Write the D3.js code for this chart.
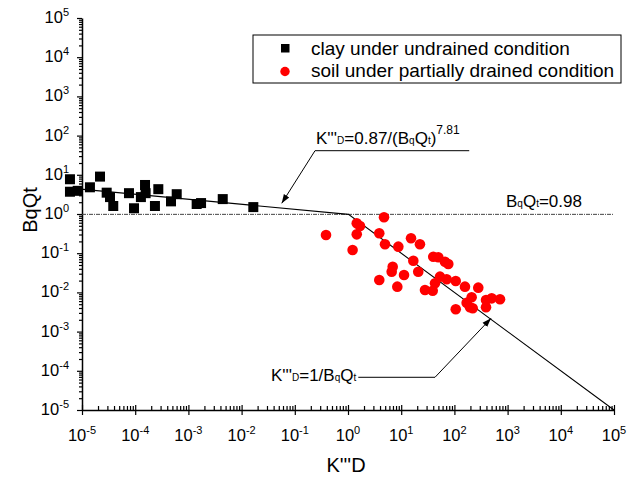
<!DOCTYPE html>
<html>
<head>
<meta charset="utf-8">
<script src="https://cdn.jsdelivr.net/npm/d3@7"></script>
<style>
  html, body { margin: 0; padding: 0; background: #fff; }
  svg { display: block; font-family: "Liberation Sans", Arial, sans-serif; }
</style>
</head>
<body>
<svg id="chart" width="627" height="477"></svg>
<script>
// ---------------- data ----------------
const clayK = [5.94e-6, 5.94e-6, 8.3e-6, 1.41e-5, 2.18e-5, 2.91e-5, 3.36e-5, 3.87e-5, 7.64e-5, 9.5e-5,
               1.28e-4, 1.53e-4, 1.57e-4, 2.35e-4, 2.72e-4, 4.71e-4, 6.03e-4, 1.43e-3, 1.73e-3, 4.42e-3, 1.66e-2];
const clayBqQt = [7.7, 3.7, 3.9, 4.8, 9.0, 3.5, 2.7, 1.6, 3.4, 1.4,
                  2.7, 5.5, 3.4, 1.6, 4.3, 2.1, 3.2, 1.8, 1.9, 2.4, 1.5];

const soilK = [0.386, 1.46, 1.68, 4.75, 1.46, 1.22, 3.87, 4.96, 8.83, 15.3,
               22.5, 16.9, 40.1, 49.8, 66.5, 76.8, 6.92, 6.62, 11.3, 20.9,
               3.87, 8.45, 53.6, 71.6, 106, 43.2, 28.0, 39.1, 158, 281,
               211, 170, 196, 106, 393, 502, 720, 393, 221];
const soilBqQt = [0.291, 0.579, 0.494, 0.824, 0.303, 0.121, 0.322, 0.169, 0.147, 0.240,
                  0.169, 0.0644, 0.0815, 0.0786, 0.0607, 0.053, 0.0453, 0.0337, 0.0278, 0.0337,
                  0.0207, 0.0140, 0.0252, 0.0216, 0.0195, 0.0171, 0.0115, 0.0110, 0.0140, 0.0132,
                  0.0075, 0.00546, 0.00417, 0.00371, 0.0064, 0.00706, 0.00667, 0.00417, 0.00393];

const tickExponents = [-5, -4, -3, -2, -1, 0, 1, 2, 3, 4, 5];
const seriesNames = ["clay under undrained condition", "soil under partially drained condition"];

// fitted relations: K'''D = 0.87/(BqQt)^7.81  and  K'''D = 1/BqQt
const fitCoef = 0.87, fitExp = 7.81;
const fitKStart = 6e-6, fitKEnd = 1e5;
const limitBqQt = 0.98;

// annotation anchors (data space)
const ann1 = { elbowK: 0.24, underlineEndK: 190, lineBqQt: 41.2, tipK: 0.0568, tipBqQt: 1.875 };
const ann2 = { startK: 1.56, elbowK: 43.2, lineBqQt: 6.83e-5, tipK: 488, tipBqQt: 2.18e-3 };

// ---------------- chart ----------------
const svg = d3.select("#chart");
const L = 82, R = 614, T = 18, B = 410;
const x = d3.scaleLog().domain([1e-5, 1e5]).range([L, R]);
const y = d3.scaleLog().domain([1e-5, 1e5]).range([B, T]);

const majors = tickExponents.map(e => Math.pow(10, e));
const minors = [];
for (let e = -5; e < 5; e++) for (let m = 2; m <= 9; m++) minors.push(m * Math.pow(10, e));

svg.append("defs").append("marker")
  .attr("id", "arrow").attr("viewBox", "0 0 10 10").attr("refX", 10).attr("refY", 5)
  .attr("markerWidth", 9).attr("markerHeight", 9).attr("markerUnits", "userSpaceOnUse")
  .attr("orient", "auto")
  .append("path").attr("d", "M0,1.5 L10,5 L0,8.5 Z").attr("fill", "#000");

// x axis
const gx = svg.append("g").attr("transform", `translate(0,${B})`);
gx.call(d3.axisTop(x).tickValues(minors).tickSize(4).tickFormat(""));
gx.call(g => g.selectAll(".domain").remove());
const gx2 = svg.append("g").attr("transform", `translate(0,${B})`);
gx2.call(d3.axisBottom(x).tickValues(majors).tickSizeInner(5).tickSizeOuter(0).tickFormat(""));
gx2.selectAll(".tick line").attr("y1", -5);
gx2.selectAll(".tick line").attr("stroke-width", 1.2);
gx.selectAll(".tick line").attr("stroke-width", 1.2);

// y axis
const gy = svg.append("g").attr("transform", `translate(${L},0)`);
gy.call(d3.axisLeft(y).tickValues(minors).tickSize(3).tickFormat(""));
gy.call(g => g.selectAll(".domain").remove());
const gy2 = svg.append("g").attr("transform", `translate(${L},0)`);
gy2.call(d3.axisLeft(y).tickValues(majors).tickSizeInner(5).tickSizeOuter(0).tickFormat(""));
gy2.select(".domain").attr("stroke-width", 1.5);
gx2.select(".domain").attr("stroke-width", 1.5);
gy.selectAll(".tick line").attr("stroke-width", 1.2);
gy2.selectAll(".tick line").attr("stroke-width", 1.2);

// tick labels
tickExponents.forEach(e => {
  const t = svg.append("text").attr("x", x(Math.pow(10, e))).attr("y", 441)
    .attr("text-anchor", "middle").attr("font-size", 16.5);
  t.append("tspan").text("10");
  t.append("tspan").attr("dy", -7).attr("font-size", 11).text(e);
  const ty = svg.append("text").attr("x", 69).attr("y", y(Math.pow(10, e)) + 5)
    .attr("text-anchor", "end").attr("font-size", 16.5);
  ty.append("tspan").text("10");
  ty.append("tspan").attr("dy", -7).attr("font-size", 11).text(e);
});

// axis titles
svg.append("text").attr("x", 346).attr("y", 472).attr("text-anchor", "middle")
  .attr("font-size", 20).text("K'''D");
svg.append("text").attr("transform", `translate(37,${y(1) - 4}) rotate(-90)`)
  .attr("text-anchor", "middle").attr("font-size", 20).text("BqQt");

// dashed limit line
svg.append("line").attr("x1", L).attr("x2", R).attr("y1", y(limitBqQt)).attr("y2", y(limitBqQt))
  .attr("stroke", "#444").attr("stroke-width", 1).attr("stroke-dasharray", "4,1,1,1");

// fit lines
const kCross = Math.exp(Math.log(fitCoef) / (1 - fitExp));
const fitCurve = K => Math.pow(fitCoef / K, 1 / fitExp);
const fitPts = [[fitKStart, fitCurve(fitKStart)], [kCross, 1 / kCross], [fitKEnd, 1 / fitKEnd]];
svg.append("path").attr("d", d3.line().x(d => x(d[0])).y(d => y(d[1]))(fitPts))
  .attr("fill", "none").attr("stroke", "#000").attr("stroke-width", 1.1);

// clay points
svg.append("g").selectAll("rect").data(clayK.map((k, i) => [k, clayBqQt[i]])).join("rect")
  .attr("x", d => x(d[0]) - 5).attr("y", d => y(d[1]) - 5).attr("width", 10).attr("height", 10)
  .attr("fill", "#000");

// soil points
svg.append("g").selectAll("circle").data(soilK.map((k, i) => [k, soilBqQt[i]])).join("circle")
  .attr("cx", d => x(d[0])).attr("cy", d => y(d[1])).attr("r", 5.3)
  .attr("fill", "#ff0000");

// annotation 1
svg.append("path")
  .attr("d", `M${x(ann1.underlineEndK)},${y(ann1.lineBqQt)} L${x(ann1.elbowK)},${y(ann1.lineBqQt)} L${x(ann1.tipK)},${y(ann1.tipBqQt)}`)
  .attr("fill", "none").attr("stroke", "#000").attr("stroke-width", 1).attr("marker-end", "url(#arrow)");
const a1 = svg.append("text").attr("x", x(ann1.elbowK) + 1).attr("y", y(ann1.lineBqQt) - 7).attr("font-size", 17);
a1.append("tspan").text("K'''");
a1.append("tspan").attr("font-size", 10).text("D");
a1.append("tspan").text("=0.87/(B");
a1.append("tspan").attr("font-size", 10).text("q");
a1.append("tspan").text("Q");
a1.append("tspan").attr("font-size", 10).text("t");
a1.append("tspan").text(")");
a1.append("tspan").attr("font-size", 12).attr("dy", -10).text("7.81");

// annotation 2
svg.append("path")
  .attr("d", `M${x(ann2.startK)},${y(ann2.lineBqQt)} L${x(ann2.elbowK)},${y(ann2.lineBqQt)} L${x(ann2.tipK)},${y(ann2.tipBqQt)}`)
  .attr("fill", "none").attr("stroke", "#000").attr("stroke-width", 1).attr("marker-end", "url(#arrow)");
const a2 = svg.append("text").attr("x", x(ann2.startK) - 2).attr("y", y(ann2.lineBqQt) + 4)
  .attr("text-anchor", "end").attr("font-size", 17);
a2.append("tspan").text("K'''");
a2.append("tspan").attr("font-size", 10).text("D");
a2.append("tspan").text("=1/B");
a2.append("tspan").attr("font-size", 10).text("q");
a2.append("tspan").text("Q");
a2.append("tspan").attr("font-size", 10).text("t");

// limit label
const a3 = svg.append("text").attr("x", 506).attr("y", y(limitBqQt) - 7).attr("font-size", 17);
a3.append("tspan").text("B");
a3.append("tspan").attr("font-size", 10).text("q");
a3.append("tspan").text("Q");
a3.append("tspan").attr("font-size", 10).text("t");
a3.append("tspan").text("=0.98");

// legend
const lg = svg.append("g");
lg.append("rect").attr("x", 253).attr("y", 35).attr("width", 368).attr("height", 48)
  .attr("fill", "#fff").attr("stroke", "#000").attr("stroke-width", 1);
lg.append("rect").attr("x", 281).attr("y", 44).attr("width", 8.5).attr("height", 8.5).attr("fill", "#000");
lg.append("circle").attr("cx", 285).attr("cy", 71.5).attr("r", 4.7).attr("fill", "#ff0000");
lg.append("text").attr("x", 311).attr("y", 55).attr("font-size", 19).text(seriesNames[0]);
lg.append("text").attr("x", 311).attr("y", 77).attr("font-size", 19).text(seriesNames[1]);
</script>
</body>
</html>
